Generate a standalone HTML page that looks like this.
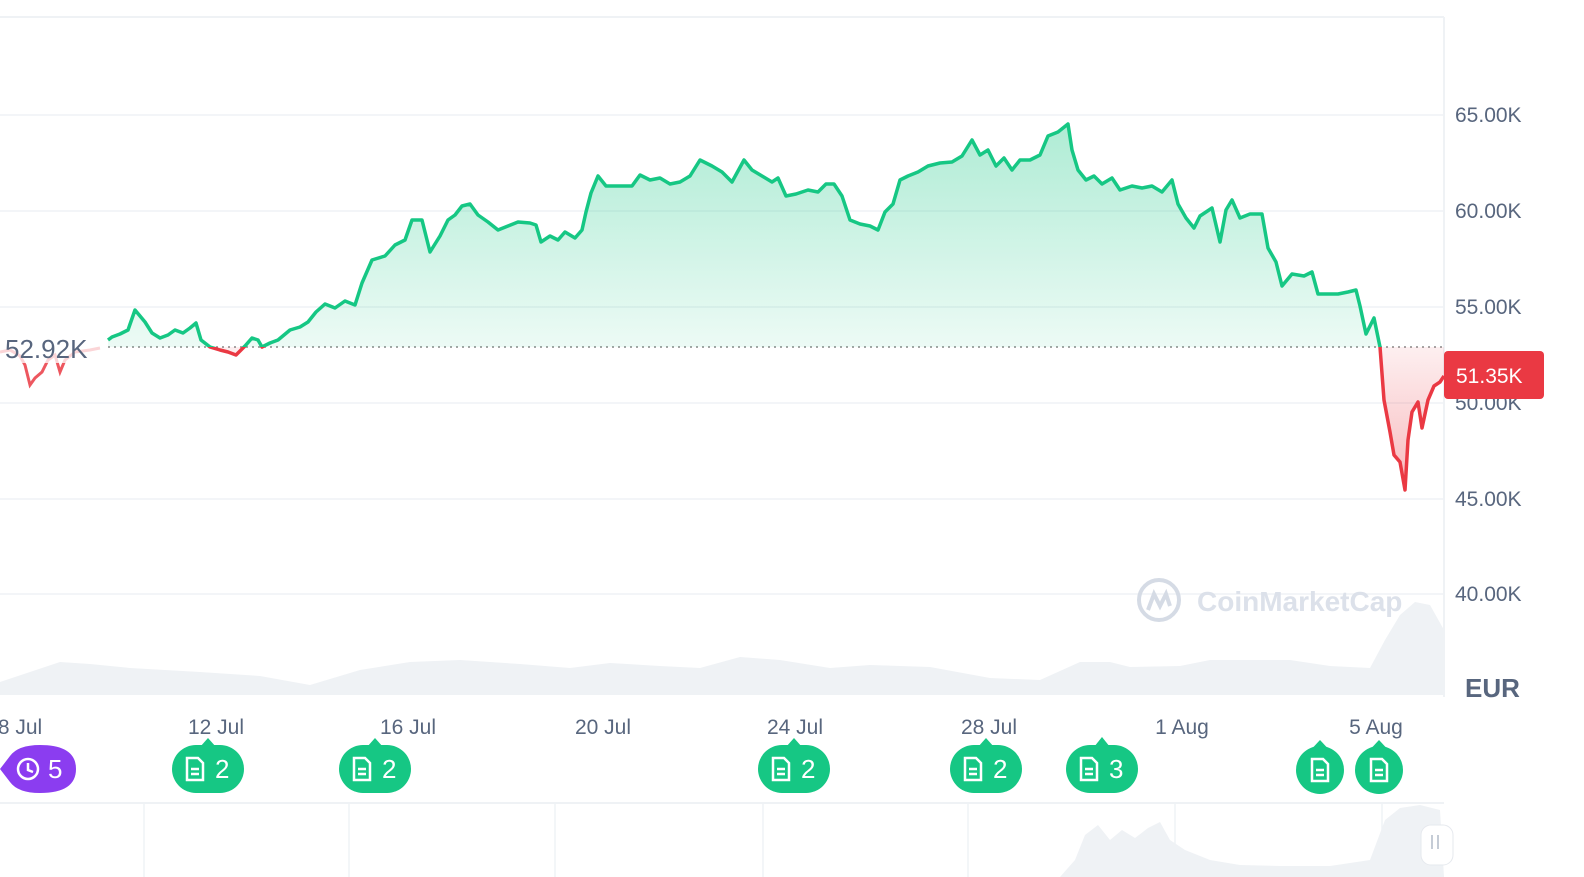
<!DOCTYPE html><html><head><meta charset="utf-8"><style>
html,body{margin:0;padding:0;background:#fff;overflow:hidden;width:100%;height:100%;font-family:"Liberation Sans",sans-serif;}
svg{display:block;width:100vw;height:100vh}
svg text{font-family:"Liberation Sans",sans-serif;}
</style></head><body>
<svg viewBox="0 0 1584 877" preserveAspectRatio="none" xmlns="http://www.w3.org/2000/svg">
<defs>
<linearGradient id="gg" x1="0" y1="120" x2="0" y2="347" gradientUnits="userSpaceOnUse"><stop offset="0" stop-color="#16c784" stop-opacity="0.35"/><stop offset="1" stop-color="#16c784" stop-opacity="0.08"/></linearGradient>
<linearGradient id="rg" x1="0" y1="347" x2="0" y2="490" gradientUnits="userSpaceOnUse"><stop offset="0" stop-color="#ea3943" stop-opacity="0.08"/><stop offset="1" stop-color="#ea3943" stop-opacity="0.35"/></linearGradient>
<clipPath id="top"><rect x="0" y="0" width="1444" height="347"/></clipPath>
<clipPath id="bot"><rect x="0" y="347" width="1444" height="300"/></clipPath>
<path id="p" d="M108,340 L112,337 L120,334 L128,330 L135,310 L145,322 L152,333 L160,338 L168,335 L175,330 L183,333 L190,328 L196,323 L201,340 L210,347 L220,350 L228,352 L236,355 L245,346 L252,338 L258,340 L262,347 L270,343 L278,340 L290,330 L300,327 L308,322 L316,312 L325,304 L335,308 L345,301 L355,305 L362,283 L372,260 L385,256 L395,245 L405,240 L412,220 L422,220 L430,252 L440,236 L448,220 L455,215 L462,206 L470,204 L478,215 L488,222 L498,230 L508,226 L518,222 L530,223 L536,225 L541,242 L550,236 L558,240 L565,232 L575,238 L582,230 L586,212 L591,193 L598,176 L606,186 L618,186 L632,186 L640,175 L650,180 L660,178 L670,184 L680,182 L690,176 L700,160 L712,166 L722,172 L732,182 L744,160 L752,170 L762,176 L772,182 L778,178 L786,196 L796,194 L808,190 L818,192 L826,184 L834,184 L842,196 L850,220 L860,224 L870,226 L878,230 L885,212 L893,204 L900,180 L908,176 L918,172 L928,166 L940,163 L952,162 L962,156 L972,140 L980,155 L988,150 L996,166 L1004,158 L1012,170 L1020,160 L1030,160 L1040,155 L1048,136 L1058,132 L1068,124 L1072,150 L1078,170 L1086,180 L1094,176 L1102,184 L1112,178 L1120,190 L1132,186 L1142,188 L1152,186 L1162,192 L1172,180 L1178,204 L1186,218 L1194,228 L1200,216 L1212,208 L1220,242 L1226,210 L1232,200 L1240,218 L1250,214 L1262,214 L1268,248 L1276,262 L1282,286 L1292,274 L1304,276 L1312,272 L1318,294 L1328,294 L1338,294 L1348,292 L1356,290 L1360,306 L1366,334 L1374,318 L1380,347 L1384,400 L1390,432 L1394,455 L1400,462 L1405,490 L1408,440 L1412,412 L1418,402 L1422,428 L1428,400 L1434,386 L1440,382 L1444,376"/>
</defs>
<line x1="0" y1="17" x2="1444" y2="17" stroke="#eff2f5" stroke-width="2"/>
<line x1="1444" y1="17" x2="1444" y2="697" stroke="#eff2f5" stroke-width="2"/>
<g stroke="#eff2f5" stroke-width="1.5">
<line x1="0" y1="115" x2="1444" y2="115"/><line x1="0" y1="211" x2="1444" y2="211"/><line x1="0" y1="307" x2="1444" y2="307"/><line x1="0" y1="403" x2="1444" y2="403"/><line x1="0" y1="499" x2="1444" y2="499"/><line x1="0" y1="594" x2="1444" y2="594"/>
</g>
<g font-size="21" fill="#58667e">
<text x="1455" y="122">65.00K</text><text x="1455" y="218">60.00K</text><text x="1455" y="314">55.00K</text><text x="1455" y="410">50.00K</text><text x="1455" y="506">45.00K</text><text x="1455" y="601">40.00K</text>
</g>
<text x="1465" y="697" font-size="26" font-weight="bold" fill="#58667e">EUR</text>
<path d="M0,695 L0,682 L30,672 L60,662 L90,664 L130,668 L200,672 L260,676 L310,685 L360,670 L410,662 L460,660 L520,664 L570,668 L610,663 L660,666 L700,668 L740,657 L780,660 L830,668 L870,665 L930,667 L990,678 L1040,680 L1080,662 L1110,662 L1130,667 L1180,666 L1210,660 L1250,660 L1290,660 L1330,666 L1370,668 L1385,640 L1400,615 L1415,602 L1430,605 L1444,630 L1444,695 Z" fill="#eff2f5"/>
<circle cx="1159" cy="600" r="20" fill="none" stroke="#d5dbe5" stroke-width="4"/>
<path d="M1148,610 L1154,594 L1160,606 L1166,594 L1170,606" fill="none" stroke="#d5dbe5" stroke-width="4"/>
<text x="1197" y="611" font-size="28" font-weight="bold" fill="#dce1ea">CoinMarketCap</text>
<line x1="108" y1="347" x2="1444" y2="347" stroke="#888" stroke-width="1.5" stroke-dasharray="2,4"/>
<path d="M0,352 L10,350 L20,356 L25,365 L30,385 L35,378 L42,372 L48,360 L55,355 L60,372 L65,360 L75,352 L90,350 L100,348" fill="none" stroke="#ea3943" stroke-width="3" opacity="0.85"/>
<rect x="0" y="333" width="104" height="30" fill="#fff" opacity="0.75"/>
<text x="5" y="358" font-size="26" fill="#58667e">52.92K</text>
<path d="M108,347 L108,340 L112,337 L120,334 L128,330 L135,310 L145,322 L152,333 L160,338 L168,335 L175,330 L183,333 L190,328 L196,323 L201,340 L210,347 L220,350 L228,352 L236,355 L245,346 L252,338 L258,340 L262,347 L270,343 L278,340 L290,330 L300,327 L308,322 L316,312 L325,304 L335,308 L345,301 L355,305 L362,283 L372,260 L385,256 L395,245 L405,240 L412,220 L422,220 L430,252 L440,236 L448,220 L455,215 L462,206 L470,204 L478,215 L488,222 L498,230 L508,226 L518,222 L530,223 L536,225 L541,242 L550,236 L558,240 L565,232 L575,238 L582,230 L586,212 L591,193 L598,176 L606,186 L618,186 L632,186 L640,175 L650,180 L660,178 L670,184 L680,182 L690,176 L700,160 L712,166 L722,172 L732,182 L744,160 L752,170 L762,176 L772,182 L778,178 L786,196 L796,194 L808,190 L818,192 L826,184 L834,184 L842,196 L850,220 L860,224 L870,226 L878,230 L885,212 L893,204 L900,180 L908,176 L918,172 L928,166 L940,163 L952,162 L962,156 L972,140 L980,155 L988,150 L996,166 L1004,158 L1012,170 L1020,160 L1030,160 L1040,155 L1048,136 L1058,132 L1068,124 L1072,150 L1078,170 L1086,180 L1094,176 L1102,184 L1112,178 L1120,190 L1132,186 L1142,188 L1152,186 L1162,192 L1172,180 L1178,204 L1186,218 L1194,228 L1200,216 L1212,208 L1220,242 L1226,210 L1232,200 L1240,218 L1250,214 L1262,214 L1268,248 L1276,262 L1282,286 L1292,274 L1304,276 L1312,272 L1318,294 L1328,294 L1338,294 L1348,292 L1356,290 L1360,306 L1366,334 L1374,318 L1380,347 Z" fill="url(#gg)" clip-path="url(#top)"/>
<use href="#p" fill="none" stroke="#16c784" stroke-width="3.5" stroke-linejoin="round" clip-path="url(#top)"/>
<path d="M1380,347 L1384,400 L1390,432 L1394,455 L1400,462 L1405,490 L1408,440 L1412,412 L1418,402 L1422,428 L1428,400 L1434,386 L1440,382 L1444,376 L1444,347 Z" fill="url(#rg)"/>
<path d="M201,347 L210,347 L220,350 L228,352 L236,355 L245,347 Z" fill="url(#rg)"/>
<use href="#p" fill="none" stroke="#ea3943" stroke-width="3.5" stroke-linejoin="round" clip-path="url(#bot)"/>
<rect x="1444" y="351" width="100" height="48" rx="4" fill="#ea3943"/>
<text x="1456" y="383" font-size="21" fill="#fff">51.35K</text>
<g font-size="21" fill="#58667e" text-anchor="middle">
<text x="20" y="734">8 Jul</text><text x="216" y="734">12 Jul</text><text x="408" y="734">16 Jul</text><text x="603" y="734">20 Jul</text><text x="795" y="734">24 Jul</text><text x="989" y="734">28 Jul</text><text x="1182" y="734">1 Aug</text><text x="1376" y="734">5 Aug</text>
</g>
<g font-size="26" fill="#fff">
<path d="M0,769 L10,756 Q18,745 40,745 Q76,745 76,769 Q76,793 40,793 Q18,793 10,782 Z" fill="#8b3df0"/>
<circle cx="28" cy="769" r="10" fill="none" stroke="#fff" stroke-width="2.5"/><path d="M28,763 L28,770 L33,772" stroke="#fff" stroke-width="2.5" fill="none"/>
<text x="48" y="778">5</text>
</g>
<g fill="#16c784">
<rect x="172" y="745" width="72" height="48" rx="24"/><path d="M200,747 L208,738 L216,747Z"/>
<rect x="339" y="745" width="72" height="48" rx="24"/><path d="M367,747 L375,738 L383,747Z"/>
<rect x="758" y="745" width="72" height="48" rx="24"/><path d="M786,747 L794,738 L802,747Z"/>
<rect x="950" y="745" width="72" height="48" rx="24"/><path d="M978,747 L986,738 L994,747Z"/>
<rect x="1066" y="745" width="72" height="48" rx="24"/><path d="M1094,747 L1102,737 L1110,747Z"/>
<circle cx="1320" cy="770" r="24"/><path d="M1306,755 L1320,740 L1334,755Z"/>
<circle cx="1379" cy="770" r="24"/><path d="M1365,755 L1379,740 L1393,755Z"/>
</g>
<g fill="none" stroke="#fff" stroke-width="2.5">
<path d="M187,758 h11 l5,5 v17 h-16z M191,769 h8 M191,774 h8"/>
<path d="M354,758 h11 l5,5 v17 h-16z M358,769 h8 M358,774 h8"/>
<path d="M773,758 h11 l5,5 v17 h-16z M777,769 h8 M777,774 h8"/>
<path d="M965,758 h11 l5,5 v17 h-16z M969,769 h8 M969,774 h8"/>
<path d="M1081,758 h11 l5,5 v17 h-16z M1085,769 h8 M1085,774 h8"/>
<path d="M1312,759 h11 l5,5 v17 h-16z M1316,770 h8 M1316,775 h8"/>
<path d="M1371,759 h11 l5,5 v17 h-16z M1375,770 h8 M1375,775 h8"/>
</g>
<g font-size="26" fill="#fff">
<text x="215" y="778">2</text><text x="382" y="778">2</text><text x="801" y="778">2</text><text x="993" y="778">2</text><text x="1109" y="778">3</text>
</g>
<line x1="0" y1="803" x2="1444" y2="803" stroke="#eff2f5" stroke-width="2"/>
<g stroke="#eff2f5" stroke-width="1.5"><line x1="144" y1="803" x2="144" y2="877"/><line x1="349" y1="803" x2="349" y2="877"/><line x1="555" y1="803" x2="555" y2="877"/><line x1="763" y1="803" x2="763" y2="877"/><line x1="968" y1="803" x2="968" y2="877"/><line x1="1175" y1="803" x2="1175" y2="877"/><line x1="1382" y1="803" x2="1382" y2="877"/></g>
<path d="M1060,877 L1075,860 L1085,835 L1098,825 L1110,840 L1122,830 L1135,838 L1148,828 L1160,822 L1170,840 L1185,850 L1210,860 L1240,865 L1280,866 L1330,866 L1370,860 L1385,820 L1400,808 L1420,805 L1440,810 L1444,877 Z" fill="#eff2f5"/>
<rect x="1421" y="825" width="32" height="40" rx="10" fill="#fff" stroke="#e6e9ee"/>
<path d="M1432,835 v14 M1438,835 v14" stroke="#c5ccd6" stroke-width="2"/>
</svg>
</body></html>
